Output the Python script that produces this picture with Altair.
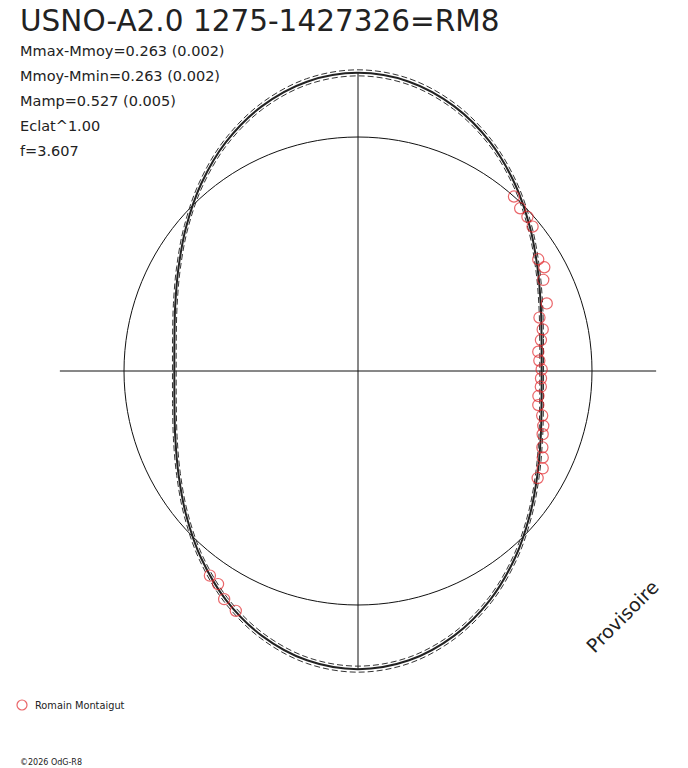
import altair as alt
import pandas as pd

title = "USNO-A2.0 1275-1427326=RM8"
stats = ["Mmax-Mmoy=0.263 (0.002)", "Mmoy-Mmin=0.263 (0.002)",
         "Mamp=0.527 (0.005)", "Eclat^1.00", "f=3.607"]
observer = "Romain Montaigut"
credit = "©2026 OdG-R8"
stamp = "Provisoire"

mmax_mmoy = 0.263

# fitted curve: magnitude minus mean magnitude, every 10 degrees of phase
curve_angle = list(range(0, 360, 10))
curve_dmag = [0.263, 0.247, 0.201, 0.132, 0.046, -0.046, -0.132, -0.201, -0.247,
              -0.263, -0.247, -0.201, -0.132, -0.046, 0.046, 0.132, 0.201, 0.247,
              0.263, 0.247, 0.201, 0.132, 0.046, -0.046, -0.132, -0.201, -0.247,
              -0.263, -0.247, -0.201, -0.132, -0.046, 0.046, 0.132, 0.201, 0.247]
# dashed envelope around the fit
envelope = [-0.011, 0.011]

# observations (phase angle in degrees, magnitude minus mean)
obs_angle = [48.2, 45.1, 42.3, 39.6, 31.8, 29.1, 26.2, 19.7, 16.4, 12.7,
             9.6, 6.1, 3.3, 0.5, -2.3, -4.9, -7.9, -10.7, -13.6, -16.5,
             -18.9, -22.5, -25.1, -27.8, -30.8, 234.1, 236.7, 239.6, 243.0]
obs_dmag = [0.000, 0.020, 0.023, 0.035, 0.107, 0.101, 0.136, 0.168, 0.231, 0.230,
            0.252, 0.277, 0.275, 0.263, 0.266, 0.264, 0.272, 0.264, 0.229, 0.208,
            0.197, 0.173, 0.149, 0.124, 0.122, -0.083, -0.093, -0.133, -0.152]

RED = "#e2262b"
INK = "#222222"

# layout: view size, centre and pixels per unit radius
W, H = 672, 760
cx, cy, R0 = 350, 363, 234

curve_df = pd.DataFrame({"angle": curve_angle, "dmag": curve_dmag})
env_df = pd.concat(
    [curve_df.assign(offset=o, dmag=curve_df["dmag"] + o) for o in envelope],
    ignore_index=True)
obs_df = pd.DataFrame({"angle": obs_angle, "dmag": obs_dmag})

rmax = 10 ** (0.4 * mmax_mmoy)
axes_df = pd.DataFrame({"x": [-rmax, 0], "x2": [rmax, 0],
                        "y": [0, -rmax], "y2": [0, rmax]})

xs = alt.Scale(domain=[-cx / R0, (W - cx) / R0], nice=False, zero=False)
ys = alt.Scale(domain=[-(H - cy) / R0, cy / R0], nice=False, zero=False)
X = alt.X("x:Q", scale=xs, axis=None)
Y = alt.Y("y:Q", scale=ys, axis=None)


def polar(chart, radius="pow(10, -0.4 * datum.dmag)"):
    return chart.transform_calculate(
        r=radius
    ).transform_calculate(
        x="datum.r * cos(datum.angle * PI / 180)",
        y="datum.r * sin(datum.angle * PI / 180)",
    )


mean_circle = polar(alt.Chart(curve_df), radius="1").mark_line(
    color="#111111", strokeWidth=1, interpolate="cardinal-closed"
).encode(x=X, y=Y, order=alt.Order("angle:Q"))

axes = alt.Chart(axes_df).mark_rule(color="#111111", strokeWidth=1).encode(
    x=X, x2="x2:Q", y=Y, y2="y2:Q")

dashed = polar(alt.Chart(env_df)).mark_line(
    color="#333333", strokeWidth=1, strokeDash=[6, 3], interpolate="cardinal-closed"
).encode(x=X, y=Y, detail="offset:N", order=alt.Order("angle:Q"))

fit = polar(alt.Chart(curve_df)).mark_line(
    color=INK, strokeWidth=2, interpolate="cardinal-closed"
).encode(x=X, y=Y, order=alt.Order("angle:Q"))

points = polar(alt.Chart(obs_df)).mark_point(
    shape="circle", size=125, filled=False, color=RED, strokeWidth=1.2
).encode(x=X, y=Y)

font = "DejaVu Sans"
title_txt = alt.Chart().mark_text(
    text=title, font=font, fontSize=29.5, color=INK, align="left", baseline="alphabetic"
).encode(x=alt.value(12), y=alt.value(23))

stats_txt = alt.Chart().mark_text(
    text=stats, font=font, fontSize=14.5, lineHeight=25, color=INK,
    align="left", baseline="alphabetic"
).encode(x=alt.value(12), y=alt.value(48))

legend_dot = alt.Chart().mark_point(
    shape="circle", size=100, filled=False, color=RED, strokeWidth=1.2
).encode(x=alt.value(14), y=alt.value(697))

legend_txt = alt.Chart().mark_text(
    text=observer, font=font, fontSize=9.8, color=INK, align="left", baseline="alphabetic"
).encode(x=alt.value(27), y=alt.value(701))

credit_txt = alt.Chart().mark_text(
    text=credit, font=font, fontSize=8, color=INK, align="left", baseline="alphabetic"
).encode(x=alt.value(12), y=alt.value(757))

stamp_txt = alt.Chart().mark_text(
    text=stamp, font=font, fontSize=19, color=INK, angle=315,
    align="center", baseline="middle"
).encode(x=alt.value(615), y=alt.value(609))

chart = alt.layer(
    mean_circle, axes, dashed, fit, points,
    title_txt, stats_txt, legend_dot, legend_txt, credit_txt, stamp_txt
).properties(
    width=W, height=H, padding=0, autosize=alt.AutoSizeParams(type="none"),
    background="white"
).configure_view(stroke=None)

chart.save("out.html", embed_options={"renderer": "svg", "actions": False})
